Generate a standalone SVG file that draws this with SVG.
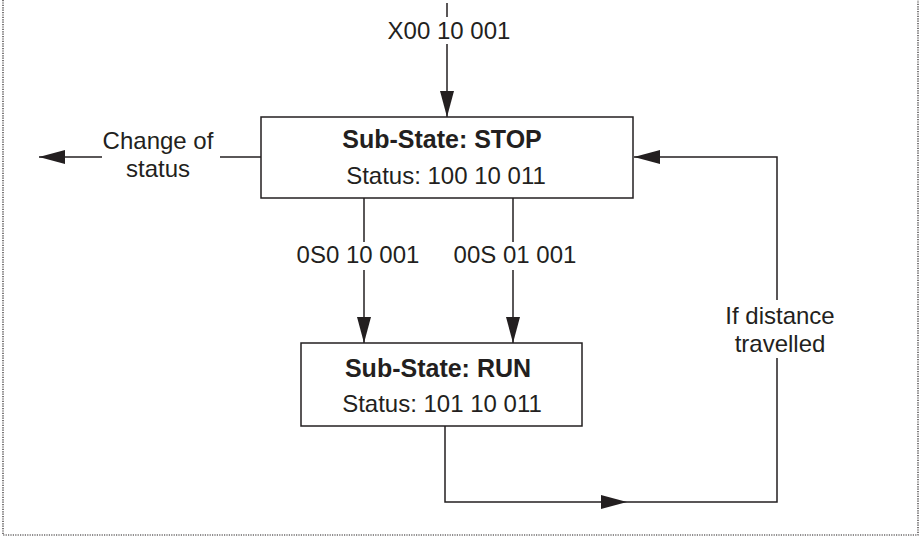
<svg xmlns="http://www.w3.org/2000/svg" width="920" height="538" viewBox="0 0 920 538">
<defs>
<marker id="ah" markerUnits="userSpaceOnUse" markerWidth="26" markerHeight="14" refX="26" refY="7" orient="auto">
<path d="M0,0 L26,7 L0,14 z" fill="#231f20"/>
</marker>
<style>
.box{fill:#fff;stroke:#231f20;stroke-width:1.5}
.ln{fill:none;stroke:#231f20;stroke-width:1.5}
.t{font-family:"Liberation Sans",Arial,sans-serif;font-size:24px;fill:#231f20;text-anchor:middle}
.b{font-weight:bold;font-size:25px}
.frame{fill:none;stroke:#231f20;stroke-width:1.2;stroke-dasharray:1.2,1.2}
</style>
</defs>
<rect width="920" height="538" fill="#fff"/>
<path class="frame" d="M3,0 V535 H918 V0"/>
<g id="connectors">
<path class="ln" d="M447,3 V17"/>
<path class="ln" d="M447,44 V117" marker-end="url(#ah)"/>
<path class="ln" d="M261,157 H220"/>
<path class="ln" d="M102,157 H39" marker-end="url(#ah)"/>
<path class="ln" d="M364,198 V242"/>
<path class="ln" d="M364,270 V343" marker-end="url(#ah)"/>
<path class="ln" d="M513,198 V242"/>
<path class="ln" d="M513,270 V343" marker-end="url(#ah)"/>
<path class="ln" d="M445,426 V502 H627" marker-end="url(#ah)"/>
<path class="ln" d="M627,502 H777 V358"/>
<path class="ln" d="M777,300 V157 H634" marker-end="url(#ah)"/>
<text class="t" x="449" y="39">X00 10 001</text>
<text class="t" x="158" y="149">Change of</text>
<text class="t" x="158" y="177">status</text>
<text class="t" x="358" y="263">0S0 10 001</text>
<text class="t" x="515" y="263">00S 01 001</text>
<text class="t" x="780" y="324">If distance</text>
<text class="t" x="780" y="352">travelled</text>
</g>
<g id="stop">
<rect class="box" x="261" y="117" width="372" height="81"/>
<text class="t b" x="442" y="148">Sub-State: STOP</text>
<text class="t" x="446" y="184">Status: 100 10 011</text>
</g>
<g id="run">
<rect class="box" x="301" y="343" width="281" height="83"/>
<text class="t b" x="438" y="377">Sub-State: RUN</text>
<text class="t" x="442" y="412">Status: 101 10 011</text>
</g>
</svg>
